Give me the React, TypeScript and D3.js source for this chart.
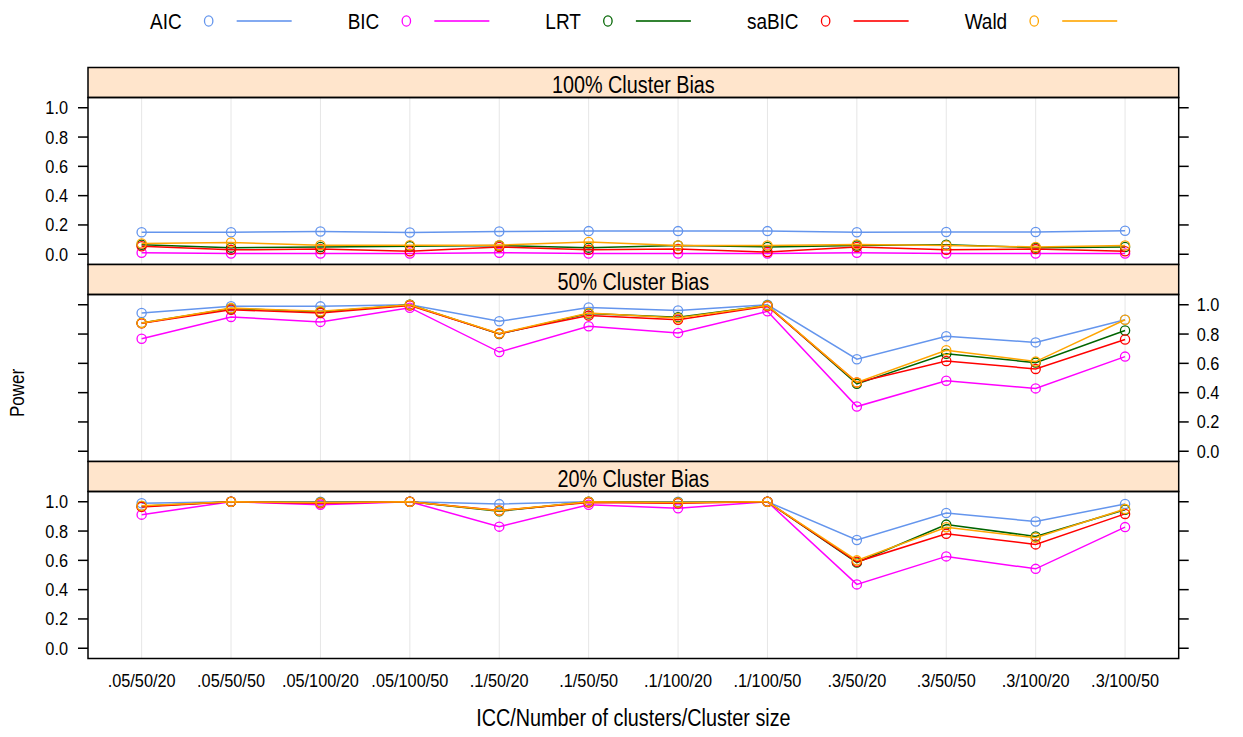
import React from 'react'
import * as d3 from 'd3'

const categories = ['.05/50/20', '.05/50/50', '.05/100/20', '.05/100/50', '.1/50/20', '.1/50/50',
  '.1/100/20', '.1/100/50', '.3/50/20', '.3/50/50', '.3/100/20', '.3/100/50']
const methods = ['AIC', 'BIC', 'LRT', 'saBIC', 'Wald']
const colors = ['#6495ED', '#FF00FF', '#006400', '#FF0000', '#FFA500']
const panelTitles = ['100% Cluster Bias', '50% Cluster Bias', '20% Cluster Bias']
const yTicks = [0, 0.2, 0.4, 0.6, 0.8, 1.0]

// 100% cluster bias
const bias100AIC = [0.15, 0.15, 0.155, 0.148, 0.155, 0.158, 0.158, 0.158, 0.15, 0.152, 0.152, 0.16]
const bias100BIC = [0.01, 0.005, 0.005, 0.005, 0.01, 0.005, 0.005, 0.005, 0.01, 0.005, 0.005, 0.005]
const bias100LRT = [0.065, 0.045, 0.05, 0.055, 0.06, 0.045, 0.06, 0.05, 0.06, 0.065, 0.045, 0.05]
const bias100saBIC = [0.055, 0.03, 0.035, 0.02, 0.05, 0.03, 0.035, 0.015, 0.05, 0.03, 0.035, 0.02]
const bias100Wald = [0.073, 0.08, 0.062, 0.062, 0.062, 0.084, 0.06, 0.06, 0.067, 0.06, 0.05, 0.06]

// 50% cluster bias
const bias50AIC = [0.944, 0.99, 0.989, 1.0, 0.887, 0.982, 0.961, 1.0, 0.628, 0.785, 0.743, 0.898]
const bias50BIC = [0.768, 0.917, 0.883, 0.98, 0.677, 0.853, 0.808, 0.955, 0.305, 0.481, 0.429, 0.646]
const bias50LRT = [0.875, 0.975, 0.95, 1.0, 0.8, 0.94, 0.915, 0.995, 0.46, 0.666, 0.605, 0.824]
const bias50saBIC = [0.873, 0.966, 0.944, 0.995, 0.803, 0.926, 0.898, 0.99, 0.47, 0.616, 0.562, 0.763]
const bias50Wald = [0.876, 0.977, 0.955, 1.0, 0.804, 0.944, 0.91, 0.995, 0.47, 0.689, 0.612, 0.898]

// 20% cluster bias
const bias20AIC = [0.99, 1.0, 1.0, 1.0, 0.984, 1.0, 1.0, 1.0, 0.739, 0.923, 0.865, 0.985]
const bias20BIC = [0.912, 1.0, 0.98, 1.0, 0.83, 0.98, 0.955, 1.0, 0.436, 0.627, 0.542, 0.827]
const bias20LRT = [0.97, 1.0, 0.995, 1.0, 0.935, 1.0, 0.995, 1.0, 0.585, 0.844, 0.763, 0.945]
const bias20saBIC = [0.965, 1.0, 0.99, 1.0, 0.94, 0.995, 0.99, 1.0, 0.59, 0.781, 0.709, 0.917]
const bias20Wald = [0.973, 1.0, 0.995, 1.0, 0.939, 1.0, 0.995, 1.0, 0.6, 0.826, 0.754, 0.95]

const panelData = [
  [bias100AIC, bias100BIC, bias100LRT, bias100saBIC, bias100Wald],
  [bias50AIC, bias50BIC, bias50LRT, bias50saBIC, bias50Wald],
  [bias20AIC, bias20BIC, bias20LRT, bias20saBIC, bias20Wald],
]

const W = 1243
const H = 737
const FONT = '"Liberation Sans", Arial, Helvetica, sans-serif'
const SY = 1.17 // text in the original is a little stretched vertically

const left = 88
const right = 1178.7
const top = 67.5
const stripH = 30
const panelH = 167

const x = d3.scaleLinear().domain([0.4, categories.length + 0.6]).range([left, right])

function measure(text: string, size: number) {
  const c = document.createElement('canvas').getContext('2d')
  if (!c) return text.length * size * 0.55
  c.font = `${size}px ${FONT}`
  return c.measureText(text).width
}

function T({ x, y, size, anchor = 'start', children, rotate = 0 }: any) {
  return (
    <text transform={`translate(${x},${y}) rotate(${rotate}) scale(1,${SY})`}
      fontFamily={FONT} fontSize={size} textAnchor={anchor} fill="#000">{children}</text>
  )
}

function Legend() {
  const size = 19
  let cx = 150
  const items = methods.map((m, i) => {
    const w = measure(m, size)
    const tx = cx
    const circ = tx + w + 27
    const l0 = circ + 28
    const l1 = l0 + 55
    cx = l1 + 56
    return (
      <g key={m}>
        <T x={tx} y={29} size={size}>{m}</T>
        <ellipse cx={circ} cy={21} rx={4.2} ry={5.2} fill="none" stroke={colors[i]} strokeWidth={1.3} />
        <line x1={l0} x2={l1} y1={21} y2={21} stroke={colors[i]} strokeWidth={2} strokeOpacity={0.8} />
      </g>
    )
  })
  return <g>{items}</g>
}

function Panel({ idx }: { idx: number }) {
  const sTop = top + idx * (stripH + panelH)
  const pTop = sTop + stripH
  const pBot = pTop + panelH
  const y = d3.scaleLinear().domain([-0.07, 1.07]).range([pBot, pTop])
  const line = d3.line<number>().x((_, i) => x(i + 1)).y(d => y(d))
  const labelsLeft = idx !== 1
  const tickSize = 16.3
  return (
    <g>
      {categories.map((c, i) => (
        <line key={c} x1={x(i + 1)} x2={x(i + 1)} y1={pTop} y2={pBot} stroke="#e6e6e6" strokeWidth={1} />
      ))}
      {panelData[idx].map((vals, k) => (
        <g key={methods[k]}>
          <path d={line(vals) || ''} fill="none" stroke={colors[k]} strokeWidth={1.5} />
          {vals.map((v, i) => (
            <circle key={i} cx={x(i + 1)} cy={y(v)} r={4.6} fill="none" stroke={colors[k]} strokeWidth={1.3} />
          ))}
        </g>
      ))}
      <rect x={left} y={sTop} width={right - left} height={stripH} fill="#ffe5cc" stroke="#000" strokeWidth={1.5} />
      <T x={(left + right) / 2} y={sTop + 25} size={19.8} anchor="middle">{panelTitles[idx]}</T>
      <rect x={left} y={pTop} width={right - left} height={panelH} fill="none" stroke="#000" strokeWidth={1.5} />
      {yTicks.map(t => (
        <g key={t}>
          <line x1={left - 10} x2={left} y1={y(t)} y2={y(t)} stroke="#000" strokeWidth={1.5} />
          <line x1={right} x2={right + 10} y1={y(t)} y2={y(t)} stroke="#000" strokeWidth={1.5} />
          {labelsLeft
            ? <T x={left - 20} y={y(t) + 6.5} size={tickSize} anchor="end">{d3.format('.1f')(t)}</T>
            : <T x={right + 18} y={y(t) + 6.5} size={tickSize} anchor="start">{d3.format('.1f')(t)}</T>}
        </g>
      ))}
      {idx === 2 && categories.map((c, i) => (
        <T key={c} x={x(i + 1)} y={687} size={16.3} anchor="middle">{c}</T>
      ))}
    </g>
  )
}

export default function App() {
  return (
    <svg width={W} height={H} style={{ display: 'block', position: 'absolute', left: 0, top: 0, background: '#fff' }}>
      <rect width={W} height={H} fill="#fff" />
      <Legend />
      {panelTitles.map((_, i) => <Panel key={i} idx={i} />)}
      <T x={(left + right) / 2} y={726} size={19.8} anchor="middle">ICC/Number of clusters/Cluster size</T>
      <T x={24} y={(top + top + 3 * (stripH + panelH)) / 2 + 30} size={17} anchor="middle" rotate={-90}>Power</T>
    </svg>
  )
}
